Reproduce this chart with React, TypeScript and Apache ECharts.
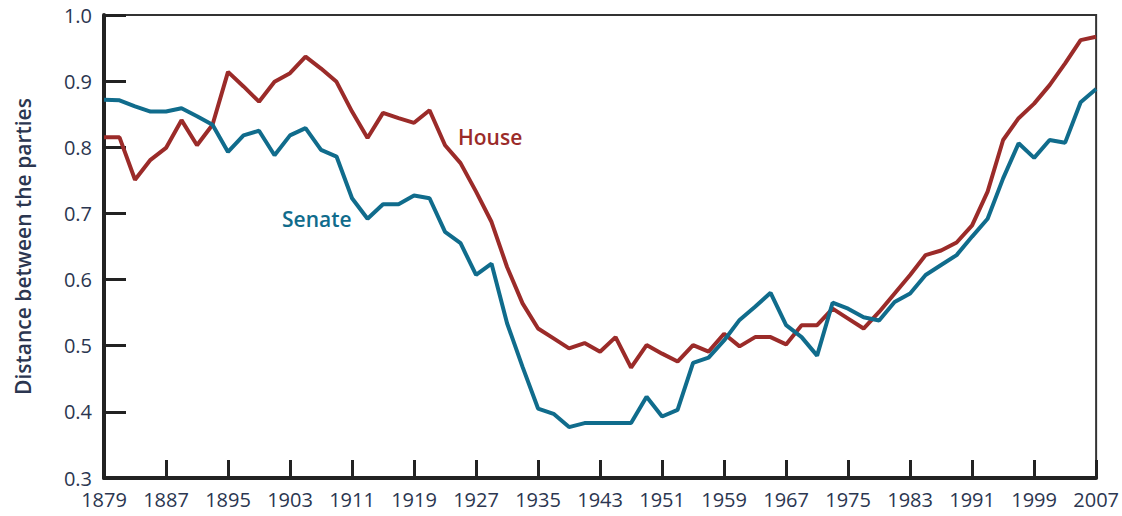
import React, { useEffect, useRef } from "react";
import * as echarts from "echarts";

const years: string[] = [];
for (let y = 1879; y <= 2007; y += 2) years.push(String(y));

const house = [
  0.815, 0.815, 0.751, 0.781, 0.799, 0.841, 0.803, 0.834, 0.914, 0.892,
  0.869, 0.899, 0.912, 0.937, 0.919, 0.899, 0.854, 0.814, 0.852, 0.844,
  0.837, 0.856, 0.803, 0.776, 0.733, 0.687, 0.619, 0.564, 0.526, 0.511,
  0.496, 0.504, 0.491, 0.513, 0.467, 0.501, 0.488, 0.476, 0.501, 0.491,
  0.518, 0.499, 0.513, 0.513, 0.502, 0.531, 0.531, 0.556, 0.541, 0.526,
  0.551, 0.579, 0.607, 0.637, 0.644, 0.656, 0.682, 0.733, 0.811, 0.844,
  0.866, 0.894, 0.927, 0.962, 0.967,
];

const senate = [
  0.872, 0.871, 0.862, 0.854, 0.854, 0.859, 0.847, 0.834, 0.793, 0.818,
  0.825, 0.788, 0.818, 0.829, 0.796, 0.786, 0.723, 0.692, 0.714, 0.714,
  0.727, 0.723, 0.672, 0.655, 0.607, 0.624, 0.534, 0.468, 0.405, 0.397,
  0.377, 0.383, 0.383, 0.383, 0.383, 0.423, 0.393, 0.403, 0.474, 0.482,
  0.508, 0.539, 0.559, 0.580, 0.531, 0.513, 0.485, 0.565, 0.556, 0.543,
  0.538, 0.566, 0.579, 0.607, 0.622, 0.637, 0.665, 0.692, 0.753, 0.806,
  0.784, 0.811, 0.807, 0.868, 0.888,
];

const labelColor = "#2b3650";
const houseColor = "#9b2b29";
const senateColor = "#106c8c";
const FONT = "'Open Sans', sans-serif";

export default function App() {
  const ref = useRef<HTMLDivElement>(null);
  useEffect(() => {
    if (!ref.current) return;
    const chart = echarts.init(ref.current, undefined, { renderer: "svg" });
    chart.setOption({
      animation: false,
      backgroundColor: "#ffffff",
      grid: {
        left: 104,
        right: 22,
        top: 15,
        bottom: 38,
        show: true,
        borderColor: "#333333",
        borderWidth: 2,
        backgroundColor: "transparent",
      },
      xAxis: {
        type: "category",
        data: years,
        boundaryGap: false,
        axisLine: { lineStyle: { color: "#222222", width: 4 } },
        axisTick: {
          inside: true,
          length: 18,
          interval: 3,
          lineStyle: { color: "#222222", width: 3 },
        },
        axisLabel: {
          interval: 3,
          color: labelColor,
          fontFamily: FONT,
          fontSize: 20,
          margin: 11,
        },
        splitLine: { show: false },
      },
      yAxis: {
        type: "value",
        min: 0.3,
        max: 1.0,
        interval: 0.1,
        name: "Distance between the parties",
        nameLocation: "middle",
        nameGap: 71,
        nameTextStyle: {
          color: labelColor,
          fontFamily: FONT,
          fontSize: 21,
          fontWeight: 600,
        },
        axisLine: { show: true, lineStyle: { color: "#222222", width: 4 } },
        axisTick: {
          show: true,
          inside: true,
          length: 22,
          lineStyle: { color: "#222222", width: 3 },
        },
        axisLabel: {
          color: labelColor,
          fontFamily: FONT,
          fontSize: 20,
          margin: 12,
          formatter: (v: number) => v.toFixed(1),
        },
        splitLine: { show: false },
      },
      series: [
        {
          name: "House",
          type: "line",
          data: house,
          symbol: "none",
          lineStyle: { color: houseColor, width: 4 },
          z: 3,
        },
        {
          name: "Senate",
          type: "line",
          data: senate,
          symbol: "none",
          lineStyle: { color: senateColor, width: 4 },
          z: 4,
        },
      ],
      graphic: [
        {
          type: "text",
          x: 458,
          y: 137,
          style: {
            text: "House",
            fill: houseColor,
            font: `600 21px ${FONT}`,
            align: "left",
            verticalAlign: "middle",
          },
        },
        {
          type: "text",
          x: 282,
          y: 219,
          style: {
            text: "Senate",
            fill: senateColor,
            font: `600 21px ${FONT}`,
            align: "left",
            verticalAlign: "middle",
          },
        },
      ],
    });
    return () => chart.dispose();
  }, []);
  return (
    <div
      ref={ref}
      style={{ position: "fixed", left: 0, top: 0, width: 1122, height: 516 }}
    />
  );
}
